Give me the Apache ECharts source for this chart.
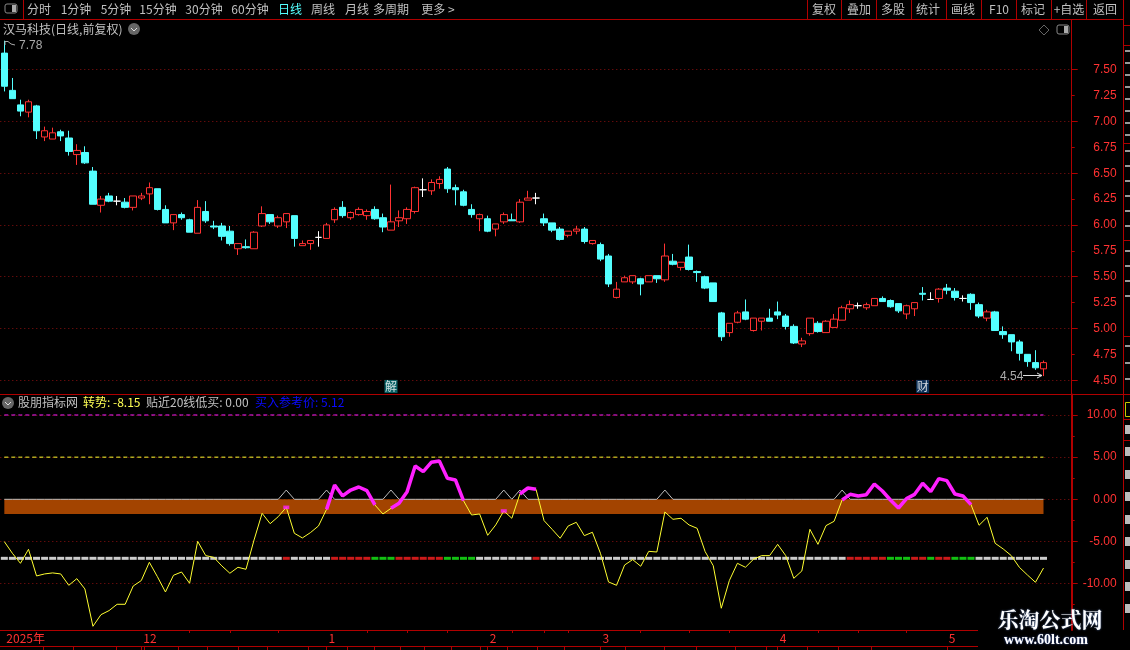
<!DOCTYPE html>
<html><head><meta charset="utf-8"><title>汉马科技</title>
<style>html,body{margin:0;padding:0;background:#000}#c{width:1130px;height:650px}</style>
<script src="https://cdn.jsdelivr.net/npm/echarts@6/dist/echarts.min.js"></script></head>
<body><div id="c"></div>
<script>
const opens=[7.66,7.30,7.16,7.09,7.15,6.85,6.83,6.90,6.84,6.68,
6.70,6.52,6.19,6.28,6.23,6.22,6.17,6.26,6.30,6.35,
6.15,6.02,6.10,6.05,5.92,6.13,5.99,5.99,5.94,5.77,
5.79,5.77,5.99,6.10,5.99,6.03,6.09,5.80,5.82,5.88,
5.87,6.05,6.17,6.07,6.10,6.09,6.15,6.07,5.95,6.04,
6.06,6.13,6.34,6.33,6.40,6.54,6.36,6.32,6.15,6.06,
6.06,5.96,6.03,6.05,6.03,6.24,6.26,6.06,6.02,5.96,
5.90,5.94,5.96,5.82,5.81,5.70,5.30,5.45,5.45,5.48,
5.45,5.51,5.47,5.65,5.59,5.69,5.55,5.50,5.44,5.15,
4.96,5.06,5.16,4.98,5.07,5.10,5.16,5.12,5.02,4.85,
4.95,5.05,4.96,5.01,5.08,5.19,5.22,5.20,5.22,5.29,
5.27,5.24,5.14,5.19,5.34,5.28,5.29,5.39,5.36,5.29,
5.33,5.23,5.10,5.16,4.97,4.94,4.87,4.75,4.67,4.61];
const closes=[7.34,7.22,7.10,7.19,6.91,6.91,6.89,6.86,6.71,6.72,
6.60,6.20,6.25,6.23,6.23,6.17,6.28,6.28,6.36,6.15,
6.02,6.10,6.07,5.93,6.17,6.04,5.98,5.89,5.82,5.82,
5.78,5.93,6.11,6.03,6.07,6.11,5.87,5.82,5.85,5.88,
6.00,6.15,6.09,6.12,6.15,6.13,6.06,5.98,6.03,6.07,
6.15,6.36,6.34,6.41,6.44,6.35,6.34,6.19,6.10,6.10,
5.94,6.01,6.10,6.04,6.22,6.26,6.26,6.02,5.95,5.86,
5.94,5.96,5.84,5.85,5.67,5.43,5.38,5.49,5.51,5.43,
5.51,5.48,5.70,5.62,5.64,5.57,5.54,5.39,5.26,4.92,
5.05,5.15,5.09,5.10,5.10,5.07,5.13,5.02,4.86,4.88,
5.10,4.97,5.07,5.09,5.20,5.23,5.22,5.23,5.29,5.26,
5.21,5.17,5.22,5.25,5.33,5.28,5.38,5.37,5.30,5.29,
5.25,5.12,5.16,4.98,4.94,4.87,4.76,4.68,4.62,4.67];
const lows=[7.29,7.22,7.05,7.04,6.83,6.81,6.83,6.81,6.67,6.58,
6.59,6.20,6.12,6.22,6.19,6.16,6.14,6.24,6.20,6.14,
6.02,5.95,6.05,5.93,5.92,6.02,5.96,5.85,5.80,5.71,
5.77,5.77,5.98,6.01,5.97,5.97,5.79,5.80,5.76,5.79,
5.87,6.02,6.07,6.05,6.09,6.05,6.05,5.93,5.95,5.98,
6.01,6.11,6.27,6.29,6.35,6.31,6.19,6.18,6.07,5.94,
5.93,5.89,6.01,6.04,6.02,6.24,6.20,5.99,5.93,5.85,
5.88,5.91,5.82,5.81,5.65,5.40,5.29,5.45,5.43,5.32,
5.45,5.44,5.45,5.61,5.56,5.56,5.45,5.38,5.26,4.88,
4.92,5.05,5.08,4.97,4.98,5.07,5.09,4.99,4.85,4.82,
4.93,4.96,4.96,5.01,5.08,5.15,5.19,5.18,5.22,5.26,
5.20,5.15,5.09,5.12,5.27,5.28,5.25,5.33,5.27,5.26,
5.18,5.10,5.07,4.98,4.90,4.78,4.69,4.63,4.60,4.54];
const highs=[7.78,7.42,7.21,7.21,7.16,6.95,6.94,6.92,6.91,6.78,
6.76,6.56,6.28,6.31,6.28,6.26,6.28,6.31,6.41,6.35,
6.19,6.10,6.12,6.06,6.24,6.23,6.04,6.02,5.99,5.82,
5.86,5.94,6.18,6.10,6.09,6.11,6.09,5.85,5.85,5.94,
6.02,6.17,6.23,6.13,6.17,6.15,6.18,6.11,6.39,6.14,
6.17,6.37,6.45,6.44,6.47,6.56,6.39,6.34,6.20,6.11,
6.09,6.01,6.12,6.11,6.25,6.33,6.31,6.11,6.02,5.98,
5.94,5.99,5.98,5.85,5.83,5.72,5.45,5.51,5.51,5.49,
5.51,5.51,5.82,5.72,5.64,5.81,5.56,5.51,5.44,5.16,
5.05,5.17,5.28,5.10,5.10,5.19,5.26,5.14,5.04,4.91,
5.10,5.07,5.08,5.14,5.22,5.27,5.25,5.25,5.29,5.31,
5.28,5.24,5.23,5.25,5.40,5.35,5.39,5.43,5.39,5.32,
5.34,5.25,5.18,5.17,5.02,4.94,4.89,4.75,4.79,4.69];
const trendValues=[-5.02,-6.4,-7.59,-5.93,-9.09,-8.85,-8.73,-8.85,-10.2,-9.41,
-10.63,-15.06,-13.68,-13.2,-12.45,-12.45,-10.28,-9.64,-7.47,-9.17,
-10.99,-9.01,-8.62,-9.96,-4.98,-6.68,-6.88,-7.9,-8.77,-8.06,
-8.3,-4.82,-1.66,-2.89,-2.06,-0.95,-4.03,-4.58,-3.95,-3.16,
-1.19,1.7,0.4,1.1,1.46,1.03,-0.67,-1.74,-1.07,-0.47,
0.91,3.95,3.28,4.39,4.55,2.49,2.29,-0.16,-1.86,-1.74,
-4.27,-3.04,-1.38,-2.25,0.63,1.34,1.19,-2.53,-3.56,-4.62,
-3.16,-2.73,-4.31,-3.91,-6.4,-9.8,-10.2,-7.79,-7.15,-7.94,
-6.17,-6.25,-1.5,-2.37,-2.25,-3.04,-3.44,-6.21,-7.87,-12.92,
-9.64,-7.59,-8.06,-7.11,-6.68,-6.68,-5.34,-6.68,-9.37,-8.5,
-3.56,-5.34,-3.12,-2.61,-0.08,0.59,0.4,0.55,1.82,0.99,
-0.08,-1.03,0.08,0.59,1.9,0.91,2.45,2.21,0.63,0.4,
-0.63,-3.08,-2.13,-5.22,-5.89,-6.68,-8.06,-8.97,-9.84,-8.15];
const strongRanges=[[40,46],[48,57],[64,66],[104,120]];
const strongDots=[35,62];
const lowBuyIndices=[35,40,48,62,64,82,104];
const lowBuyPeak=1.1;
const lowBuyLabelLevel=-2.05;
const bandBottom=-1.75;
const redStates=[35,41,42,43,44,45,49,50,51,52,53,54,66,105,106,107,108,109,113,114,116,117];
const greenStates=[46,47,48,55,56,57,58,110,111,112,115,118,119,120];
const stateLevel=-7;
const upperLevel=10, middleLevel=5;
const timeLabels=['2025年','12','1','2','3','4','5'];
const timeIndices=[0,17,40,60,74,96,117];
const minorTimeIndices=[23,28,34,45,50,55,63,67,70,79,85,90,101,106,112];
const priceLabelTicks=[4.5,4.75,5,5.25,5.5,5.75,6,6.25,6.5,6.75,7,7.25,7.5];
const priceGridTicks=[4.5,5,5.5,6,6.5,7,7.5];
const indexTicks=[-10,-5,0,5,10];
const indexMinorTicks=[-12.5,-7.5,-2.5,2.5,7.5];
const newsTags=[{i:48,v:4.44,t:'解',c:'#0c7a80'},{i:114,v:4.44,t:'财',c:'#123e70'}];
const toolbarLeft=[['分时',39],['1分钟',76],['5分钟',116],['15分钟',158],['30分钟',204],['60分钟',250],['日线',290],['周线',323],['月线',357],['多周期',391],['更多 >',438]];
const toolbarRight=[['复权',824],['叠加',859],['多股',893],['统计',928],['画线',963],['F10',999],['标记',1033],['+自选',1069],['返回',1105]];
const toolbarSeps=[807,841,876,911,946,981,1016,1051,1086,1123];
const tabTicks=[43,73,116,144,178,207,238,267,308,347,374,400,424,451,480,507,537,564,600,625,664,696,735,766,807,838,871];
const sideMarks=[25,45,143,240,336,394,419,440];

const N=opens.length, SLOTS=133;
const categories=Array.from({length:SLOTS},(_,i)=>String(i));
const candleData=opens.map((o,i)=>[o,closes[i],lows[i],highs[i]]);
const inRange=i=>strongRanges.some(r=>i>=r[0]&&i<=r[1]);
const strongLine=trendValues.map((v,i)=>inRange(i)?v:null);
const lowBuyLine=trendValues.map((_,i)=>lowBuyIndices.includes(i)?lowBuyPeak:0);
const stateData=trendValues.map((_,i)=>({value:[i,stateLevel],itemStyle:{color:redStates.includes(i)?'#ff2020':greenStates.includes(i)?'#18f018':'#ffffff'}}));
const RED='#b00000',TXT='#c0c0c0',FONT='"Noto Sans CJK SC","Liberation Sans",sans-serif',NUM='"Liberation Sans",sans-serif';
const g=[];
const rect=(x,y,w,h,fill)=>g.push({type:'rect',silent:true,shape:{x,y,width:w,height:h},style:{fill},z:50});
const txt=(x,y,text,fill,align,size,extra)=>g.push({type:'text',silent:true,x,y,z:52,style:Object.assign({text,fill,align:align||'left',verticalAlign:'middle',font:`${size||12}px ${FONT}`},extra||{})});
const poly=(pts,stroke,w)=>g.push({type:'polyline',silent:true,z:53,shape:{points:pts},style:{stroke,fill:'none',lineWidth:w||1}});
// frame
rect(0,19,1123,1,RED); rect(0,394,1123,1,RED); rect(0,630,978,1,RED); rect(0,646,978,1,RED);
rect(23,0,1,19,RED); rect(1123,0,1,630,RED);
toolbarSeps.forEach(x=>rect(x,0,1,19,RED));
sideMarks.forEach(y=>rect(1123,y,7,1,RED));
tabTicks.forEach(x=>rect(x,647,1,3,RED));
// toolbar
toolbarLeft.forEach(([t,x])=>txt(x,9.5,t,t==='日线'?'#54ffff':TXT,'center',12));
toolbarRight.forEach(([t,x])=>txt(x,9.5,t,TXT,'center',12));
const boxIcon=(x,y)=>{g.push({type:'rect',silent:true,z:52,shape:{x,y,width:12,height:9,r:2},style:{fill:'#000',stroke:'#888',lineWidth:1}});rect(x+7,y+1,4,7,'#aaa');g[g.length-1].z=53;};
boxIcon(5,4); boxIcon(1057,25);
g.push({type:'polygon',silent:true,z:52,shape:{points:[[1044,25],[1049,30],[1044,35],[1039,30]]},style:{fill:'none',stroke:'#666',lineWidth:1}});
const chev=(x,y)=>{g.push({type:'circle',silent:true,z:52,shape:{cx:x,cy:y,r:6},style:{fill:'#666'}});poly([[x-3,y-1],[x,y+2],[x+3,y-1]],'#ddd',1);};
// headers
txt(3,29,'汉马科技(日线,前复权)',TXT,'left',12); chev(134,29);
chev(8,403);
txt(18,402,'股朋指标网',TXT,'left',12);
txt(83,402,'转势: '+trendValues[N-1].toFixed(2),'#ffff54','left',12);
txt(146,402,'贴近20线低买: 0.00',TXT,'left',12);
txt(255,402,'买入参考价: 5.12','#0a0aff','left',12);
// high / low annotations
txt(19,46,Math.max(...highs).toFixed(2),'#aaa','left',12,{font:'12px '+NUM});
poly([[5,41.5],[8,41.5],[11,44],[15,45]],'#aaa',1);
poly([[5,41],[5,45]],'#aaa',1);
txt(1000,377,Math.min(...lows).toFixed(2),'#aaa','left',12,{font:'12px '+NUM});
poly([[1023,375.5],[1042,375.5]],'#ddd',1); poly([[1037,373],[1042,375.5],[1037,378]],'#ddd',1);
// watermark
rect(978,631,152,19,'#000'); 
txt(1050,619,'乐淘公式网','#ffffff','center',21,{font:'bold 21px "Noto Serif CJK SC","Noto Sans CJK SC",serif',textShadowColor:'#5a78b0',textShadowBlur:2});
txt(1046,640,'www.60lt.com','#ffffff','center',14,{font:'bold 14px "Liberation Serif",serif',textShadowColor:'#4a68c0',textShadowBlur:2});
// clipped side panel
[50,62,74,86,98,110,122,134,150,165,180,195,210,225,250,265,280,295,345,362,378].forEach(y=>rect(1125,y,5,2,'#999'));
[425,447,470,492,515,537,560,582,604].forEach(y=>rect(1125,y,5,9,'#bbb'));
g.push({type:'rect',silent:true,z:52,shape:{x:1125.5,y:402.5,width:8,height:14},style:{fill:'none',stroke:'#c8c800'}});

const hiddenX=(idx)=>({type:'category',gridIndex:idx,data:categories,show:false,boundaryGap:true});
const stripAxis=(list,len,labels)=>({type:'category',gridIndex:2,position:'top',data:categories,boundaryGap:true,
  axisLine:{show:false},
  axisTick:{show:true,alignWithLabel:true,inside:true,length:len,lineStyle:{color:RED},interval:(i)=>list.includes(i)&&i!==0},
  axisLabel:{show:labels,inside:true,interval:(i)=>list.includes(i),align:'left',margin:2,padding:[0,0,0,2],color:'#ff3030',fontSize:12,fontFamily:FONT,verticalAlign:'top',
    formatter:(v)=>{const k=timeIndices.indexOf(+v);return k<0?'':timeLabels[k];}},
  splitLine:{show:false}});
const yBase=(grid,mn,mx)=>({type:'value',gridIndex:grid,position:'right',min:mn,max:mx,scale:true,axisLine:{show:true,lineStyle:{color:RED,width:grid?2:1}},splitLine:{show:false},axisLabel:{show:false},axisTick:{show:false}});
const dotted={show:true,lineStyle:{type:[1,3],color:'#8c1010',width:1}};
const labelStyle=(fmt)=>({show:true,showMinLabel:true,showMaxLabel:true,align:'right',margin:45,color:'#ff3232',fontSize:12,fontFamily:NUM,formatter:fmt});
const PMIN=4.362,PMAX=7.98,IMIN=-15.5,IMAX=12.43;
const opt={
  animation:false,backgroundColor:'#000',tooltip:{show:false},
  graphic:{elements:g},
  grid:[
    {left:0.3,width:1071.4,top:20,height:374.5},
    {left:0.3,width:1071.4,top:394.5,height:235.5},
    {left:0.3,width:1071.4,top:630,height:16}],
  xAxis:[hiddenX(0),hiddenX(1),stripAxis(timeIndices,16,true),stripAxis(minorTimeIndices,3,false)],
  yAxis:[
    Object.assign(yBase(0,PMIN,PMAX),{axisLabel:Object.assign(labelStyle(v=>v.toFixed(2)),{customValues:priceLabelTicks}),axisTick:{show:true,length:3,lineStyle:{color:RED},customValues:priceLabelTicks}}),
    Object.assign(yBase(0,PMIN,PMAX),{axisLine:{show:false},axisTick:{show:true,length:6,lineStyle:{color:RED},customValues:priceGridTicks},splitLine:dotted}),
    Object.assign(yBase(1,IMIN,IMAX),{axisLabel:Object.assign(labelStyle(v=>v.toFixed(2)),{customValues:indexTicks}),axisTick:{show:true,length:6,lineStyle:{color:RED},customValues:indexTicks},splitLine:dotted}),
    Object.assign(yBase(1,IMIN,IMAX),{axisLine:{show:false},axisTick:{show:true,length:3,lineStyle:{color:RED},customValues:indexMinorTicks}}),
    {type:'value',gridIndex:2,show:false}
  ],
  series:[
    {type:'candlestick',name:'K',xAxisIndex:0,yAxisIndex:0,data:candleData,barWidth:7,
      itemStyle:{color:'#000',color0:'#54ffff',borderColor:'#ff3232',borderColor0:'#54ffff',borderColorDoji:'#ffffff',borderWidth:1}},
    {type:'scatter',name:'tags',xAxisIndex:0,yAxisIndex:0,symbol:'rect',symbolSize:13,z:5,silent:true,
      data:newsTags.map(t=>({value:[t.i,t.v],itemStyle:{color:t.c},label:{show:true,position:'inside',formatter:t.t,color:'#fff',fontSize:12,fontFamily:FONT}}))},
    {type:'line',name:'lowBuy',xAxisIndex:1,yAxisIndex:2,data:lowBuyLine,showSymbol:false,z:3,lineStyle:{color:'#bdbdbd',width:1},
      markArea:{silent:true,z:1,itemStyle:{color:'#a34400'},data:[[{coord:[0,0]},{coord:[N-1,bandBottom]}]]}},
    {type:'line',name:'upper',xAxisIndex:1,yAxisIndex:2,data:trendValues.map(()=>upperLevel),showSymbol:false,z:3,lineStyle:{color:'#ff20ff',width:1,type:[4,3]}},
    {type:'line',name:'middle',xAxisIndex:1,yAxisIndex:2,data:trendValues.map(()=>middleLevel),showSymbol:false,z:3,lineStyle:{color:'#ffff30',width:1,type:[4,3]}},
    {type:'scatter',name:'state',xAxisIndex:1,yAxisIndex:2,symbol:'rect',symbolSize:[7,3],data:stateData,z:4,silent:true},
    {type:'line',name:'转势',xAxisIndex:1,yAxisIndex:2,data:trendValues,showSymbol:false,z:5,lineStyle:{color:'#ffff30',width:1}},
    {type:'line',name:'strong',xAxisIndex:1,yAxisIndex:2,data:strongLine,showSymbol:false,connectNulls:false,z:6,lineStyle:{color:'#ff20ff',width:3.5}},
    {type:'scatter',name:'strongDots',xAxisIndex:1,yAxisIndex:2,symbol:'rect',symbolSize:[6,3.5],z:6,silent:true,itemStyle:{color:'#ff20ff'},
      data:strongDots.map(i=>[i,trendValues[i]])},
    {type:'scatter',name:'低买',xAxisIndex:1,yAxisIndex:2,symbol:'none',z:7,silent:true,
      data:lowBuyIndices.map(i=>[i,lowBuyLabelLevel]),
      label:{show:true,position:'right',distance:-1,formatter:'低买',color:'#fff',fontSize:12,fontFamily:FONT}},
    {type:'line',name:'stripHolder',xAxisIndex:2,yAxisIndex:4,data:[],showSymbol:false},
    {type:'line',name:'stripHolder2',xAxisIndex:3,yAxisIndex:4,data:[],showSymbol:false}
  ]
};
const chart=echarts.init(document.getElementById('c'),null,{renderer:'canvas'});
chart.setOption(opt);
</script></body></html>
